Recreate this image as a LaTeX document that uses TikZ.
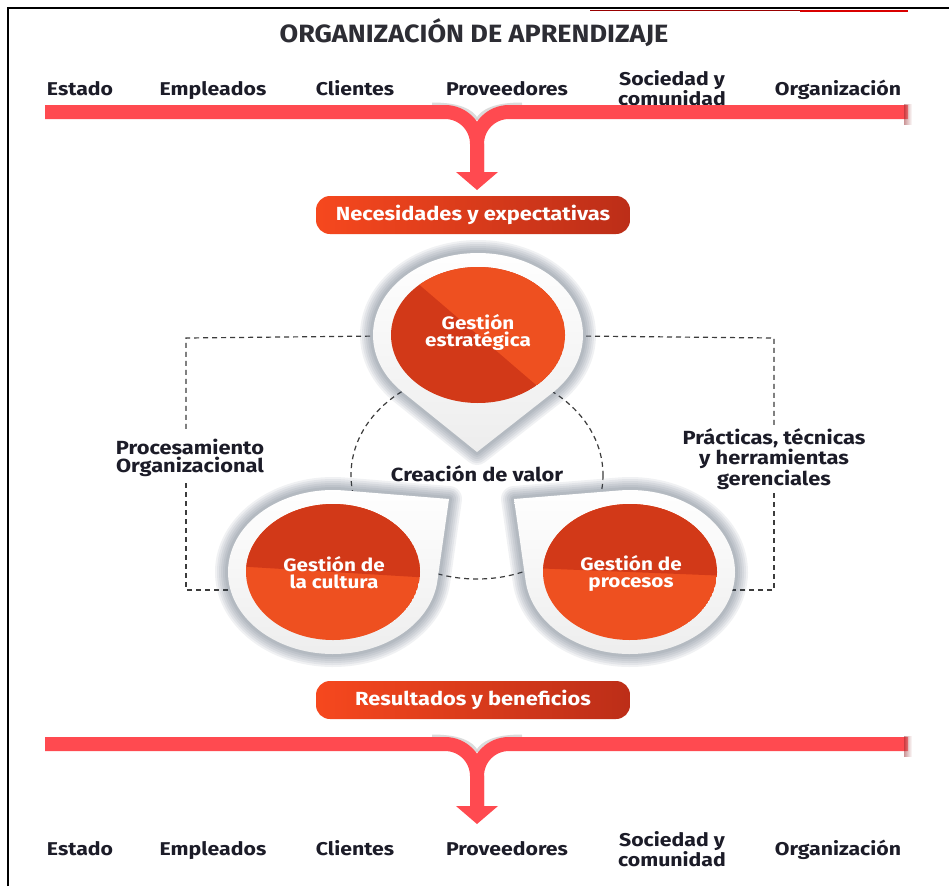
\documentclass[tikz,border=0pt]{standalone}
\usepackage{fontspec}
\setmainfont{Fira Sans}
\newfontfamily\condfont[FakeStretch=1.08]{Fira Sans}
\newfontfamily\widefont[FakeStretch=1.15]{Fira Sans}
\usetikzlibrary{calc}
\definecolor{barred}{RGB}{255,74,80}
\definecolor{btnL}{RGB}{246,72,30}
\definecolor{btnR}{RGB}{188,46,24}
\definecolor{orL}{RGB}{238,80,32}
\definecolor{orD}{RGB}{210,57,24}
\definecolor{txt}{RGB}{28,28,40}
\definecolor{ttlc}{RGB}{45,45,52}
\definecolor{shad}{RGB}{55,68,88}
\definecolor{dashc}{RGB}{60,60,60}
\newcommand\pinpath[4]{(#2) -- ($(#1)+(#3:105 and 82)$) arc[start angle=#3,end angle=#4,x radius=105,y radius=82] -- cycle}
\newcommand\drawpin[4]{%
  \foreach \w in {26,22,18,14,10,6}{\draw[draw=shad,draw opacity=0.07,line width=\w pt,line join=round] \pinpath{#1}{#2}{#3}{#4};}
  \shade[top color=white,bottom color=black!7] \pinpath{#1}{#2}{#3}{#4};
}
\tikzset{
  barline/.style={draw=barred,line width=14pt},
  dashline/.style={draw=dashc,line width=1.2pt,dash pattern=on 5pt off 4pt},
  ttl/.style={font=\condfont\bfseries\fontsize{25}{25}\selectfont,text=ttlc,inner sep=0pt},
  lab/.style={font=\widefont\bfseries\fontsize{18.5}{17.5}\selectfont,text=txt,align=center,inner sep=0pt},
  btn/.style={rounded corners=14pt,left color=btnL,right color=btnR,text=white,
    font=\widefont\bfseries\fontsize{19}{19}\selectfont,minimum width=314pt,minimum height=38pt,inner sep=0pt},
  pintxt/.style={font=\widefont\bfseries\fontsize{18}{17}\selectfont,text=white,align=center,inner sep=0pt},
  sidetxt/.style={font=\widefont\bfseries\fontsize{19}{17.5}\selectfont,text=txt,align=center,inner sep=0pt},
}
\begin{document}
\begin{tikzpicture}[x=1pt,y=-1pt]
\useasboundingbox (0,0) rectangle (949,886);
\fill[white] (0,0) rectangle (949,886);
% frame
\draw[black,line width=1.6pt] (8,886) -- (8,8) -- (949,8);
\draw[red!60!black,line width=1pt] (590,10.5) -- (800,10.5);
\draw[red!85!black,line width=2pt] (800,11) -- (908,11);
% title
\node[ttl] (title) at (474,33) {ORGANIZACIÓN DE APRENDIZAJE};
% top labels
\node[lab,anchor=base] (e1) at (80,95) {Estado};
\node[lab,anchor=base] (e2) at (213,95) {Empleados};
\node[lab,anchor=base] (e3) at (355,95) {Clientes};
\node[lab,anchor=base] (e4) at (507,95) {Proveedores};
\node[lab] (e5) at (672,88) {Sociedad y\\comunidad};
\node[lab,anchor=base] (e6) at (838,95) {Organización};
% top bar
\draw[gray!40,line width=3pt,opacity=0.7] (432,104) .. controls (458,104) and (472,110) .. (477,120);
\draw[gray!40,line width=3pt,opacity=0.7] (522,104) .. controls (496,104) and (482,110) .. (477,120);
\draw[barline] (45,112) -- (445,112) .. controls (462.7,112) and (477,126.3) .. (477,144) -- (477,173);
\draw[barline] (908,112) -- (509,112) .. controls (491.3,112) and (477,126.3) .. (477,144) -- (477,173);
\shade[left color=barred!60!black,right color=white,opacity=0.5] (904,104) rectangle (912,124);
\coordinate (tipA) at (477,190);
\fill[barred] (456,172) -- (498,172) -- (tipA) -- cycle;
% button 1
\node[btn] (nec) at (473,215) {Necesidades y expectativas};
% pin centres
\coordinate (ctop) at (478,335);
\coordinate (ttop) at (477,452);
\coordinate (cleft) at (333,572);
\coordinate (tleft) at (449,499);
\coordinate (cright) at (630,572);
\coordinate (tright) at (514,499);
% dashed circle
\draw[dashline] (477,475) ellipse[x radius=126,y radius=104];
% side labels
\node[sidetxt] (proc) at (190,458) {Procesamiento\\Organizacional};
\node[sidetxt] (prac) at (774,459) {Prácticas, técnicas\\y herramientas\\gerenciales};
\coordinate (lA) at (186,338);
\coordinate (lB) at (186,430);
\coordinate (lC) at (186,483);
\coordinate (lD) at (186,590);
\coordinate (rA) at (774,338);
\coordinate (rB) at (774,427);
\coordinate (rC) at (774,493);
\coordinate (rD) at (774,590);
\draw[dashline] (ctop) -- (lA) -- (lB);
\draw[dashline] (lC) -- (lD) -- (cleft |- lD);
\draw[dashline] (ctop) -- (rA) -- (rB);
\draw[dashline] (rC) -- (rD) -- (cright |- rD);
% pins
\drawpin{ctop}{ttop}{135.5}{404.5}
\drawpin{cleft}{tleft}{6.3}{275.3}
\drawpin{cright}{tright}{264.7}{533.7}
\begin{scope}
  \clip (ctop) ellipse[x radius=87,y radius=68];
  \fill[orD] (ctop) ellipse[x radius=87,y radius=68];
  \fill[orL] ($(ctop)+(-120,-103)$) -- ($(ctop)+(120,103)$) -- ($(ctop)+(120,-103)$) -- cycle;
\end{scope}
\begin{scope}
  \clip (cleft) ellipse[x radius=87,y radius=68];
  \fill[orL] (cleft) ellipse[x radius=87,y radius=68];
  \fill[orD] ($(cleft)+(-100,-100)$) -- ($(cleft)+(100,-100)$) -- ($(cleft)+(100,6)$) -- ($(cleft)+(-100,-6)$) -- cycle;
\end{scope}
\begin{scope}
  \clip (cright) ellipse[x radius=87,y radius=68];
  \fill[orL] (cright) ellipse[x radius=87,y radius=68];
  \fill[orD] ($(cright)+(-100,-100)$) -- ($(cright)+(100,-100)$) -- ($(cright)+(100,4)$) -- ($(cright)+(-100,-4)$) -- cycle;
\end{scope}
\node[pintxt] (gest) at (478,332) {Gestión\\estratégica};
\node[pintxt] (gcul) at (334,573) {Gestión de\\la cultura};
\node[pintxt] (gpro) at (631,573) {Gestión de\\procesos};
\node[sidetxt] (valor) at (477,474) {Creación de valor};
% button 2
\node[btn] (res) at (473,700) {Resultados y beneficios};
% bottom bar
\draw[gray!40,line width=3pt,opacity=0.7] (432,736) .. controls (458,736) and (472,742) .. (477,752);
\draw[gray!40,line width=3pt,opacity=0.7] (522,736) .. controls (496,736) and (482,742) .. (477,752);
\draw[barline] (45,744) -- (445,744) .. controls (462.7,744) and (477,758.3) .. (477,776) -- (477,807);
\draw[barline] (908,744) -- (509,744) .. controls (491.3,744) and (477,758.3) .. (477,776) -- (477,807);
\shade[left color=barred!60!black,right color=white,opacity=0.5] (904,736) rectangle (912,756);
\coordinate (tipB) at (477,824);
\fill[barred] (456,806) -- (498,806) -- (tipB) -- cycle;
% bottom labels
\node[lab,anchor=base] (f1) at (80,855) {Estado};
\node[lab,anchor=base] (f2) at (213,855) {Empleados};
\node[lab,anchor=base] (f3) at (355,855) {Clientes};
\node[lab,anchor=base] (f4) at (507,855) {Proveedores};
\node[lab] (f5) at (672,849) {Sociedad y\\comunidad};
\node[lab,anchor=base] (f6) at (838,855) {Organización};
\end{tikzpicture}
\end{document}
